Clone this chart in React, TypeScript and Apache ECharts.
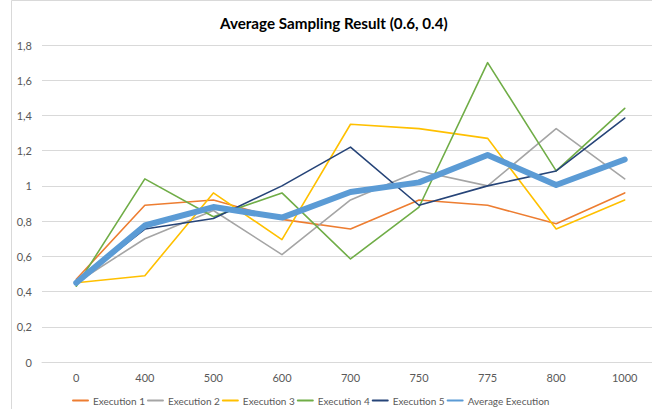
import React, { useEffect, useRef } from "react";
import * as echarts from "echarts";

const categories = ["0", "400", "500", "600", "700", "750", "775", "800", "1000"];
const execution1 = [0.47, 0.89, 0.92, 0.81, 0.755, 0.92, 0.89, 0.785, 0.96];
const execution2 = [0.45, 0.70, 0.86, 0.61, 0.92, 1.085, 1.0, 1.325, 1.04];
const execution3 = [0.45, 0.49, 0.96, 0.695, 1.35, 1.325, 1.27, 0.755, 0.92];
const execution4 = [0.43, 1.04, 0.825, 0.96, 0.585, 0.88, 1.70, 1.085, 1.44];
const execution5 = [0.45, 0.755, 0.815, 1.0, 1.22, 0.89, 1.0, 1.085, 1.385];
const averageExecution = [0.45, 0.775, 0.88, 0.82, 0.965, 1.02, 1.175, 1.005, 1.15];

const seriesNames = ["Execution 1", "Execution 2", "Execution 3", "Execution 4", "Execution 5", "Average Execution"];
const seriesData = [execution1, execution2, execution3, execution4, execution5, averageExecution];
const seriesColors = ["#ED7D31", "#A5A5A5", "#FFC000", "#70AD47", "#264478", "#5B9BD5"];
const seriesWidths = [1.6, 1.6, 1.6, 1.6, 1.6, 6];

const FONT = "Lato";

export default function App() {
  const ref = useRef<HTMLDivElement>(null);
  useEffect(() => {
    if (!ref.current) return;
    const chart = echarts.init(ref.current, null, { renderer: "svg" });
    chart.setOption({
      animation: false,
      backgroundColor: "#ffffff",
      title: {
        text: "Average Sampling Result (0.6, 0.4)",
        left: 215,
        top: 10,
        textStyle: { fontFamily: FONT, fontWeight: "bold", fontSize: 15.2, color: "#000000" },
      },
      graphic: [
        {
          type: "rect",
          shape: { x: 11.5, y: 0.5, width: 700, height: 500 },
          style: { fill: "none", stroke: "#D9D9D9", lineWidth: 1 },
          silent: true,
        },
      ],
      legend: {
        left: 67,
        top: 390,
        itemWidth: 15,
        itemHeight: 14,
        itemGap: 2,
        itemStyle: { opacity: 0 },
        textStyle: { fontFamily: FONT, fontSize: 10, color: "#595959" },
        data: seriesNames,
      },
      grid: { left: 42, top: 45, right: -7, height: 317, containLabel: false, outerBoundsMode: "none" },
      xAxis: {
        type: "category",
        data: categories,
        boundaryGap: true,
        axisLine: { show: true, lineStyle: { color: "#D9D9D9" } },
        axisTick: { show: false },
        axisLabel: { fontFamily: FONT, fontSize: 11, color: "#595959", margin: 10 },
      },
      yAxis: {
        type: "value",
        min: 0,
        max: 1.8,
        interval: 0.2,
        axisLine: { show: false },
        axisTick: { show: false },
        splitLine: { lineStyle: { color: "#D9D9D9", width: 1 } },
        axisLabel: {
          fontFamily: FONT,
          fontSize: 11,
          color: "#595959",
          margin: 10,
          formatter: (v: number) => String(Number(v.toFixed(1))).replace(".", ","),
        },
      },
      series: seriesNames.map((name, i) => ({
        name,
        type: "line",
        data: seriesData[i],
        showSymbol: false,
        symbol: "none",
        color: seriesColors[i],
        lineStyle: { color: seriesColors[i], width: seriesWidths[i], cap: "round", join: "round" },
        z: i === 5 ? 10 : 2,
      })),
    });
    return () => chart.dispose();
  }, []);
  return (
    <div
      ref={ref}
      style={{ position: "fixed", left: 0, top: 0, width: 652, height: 409 }}
    />
  );
}
